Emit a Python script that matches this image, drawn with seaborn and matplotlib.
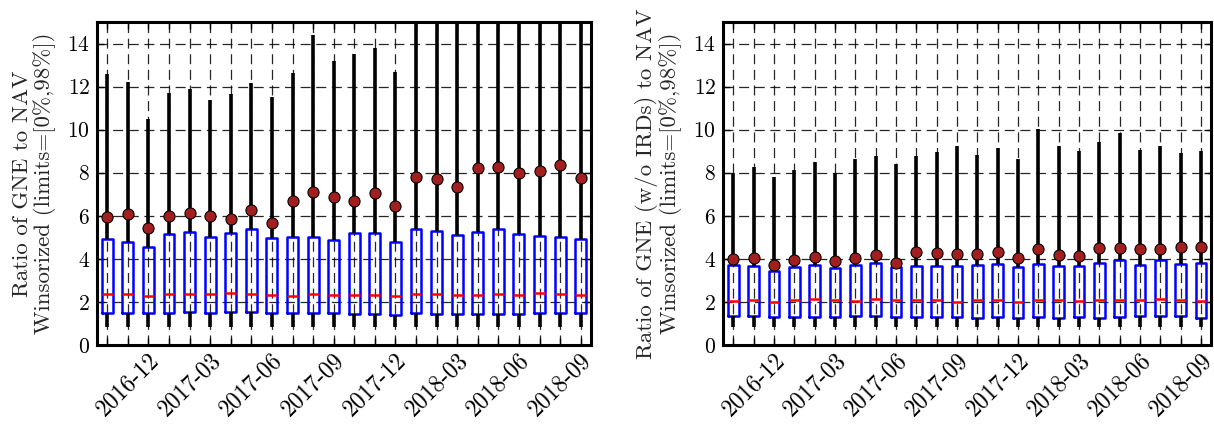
import matplotlib
matplotlib.use("Agg")
import matplotlib.pyplot as plt
import pandas as pd
import seaborn as sns

# months shown on the x axis (one box per month)
months = ["2016-11", "2016-12", "2017-01", "2017-02", "2017-03", "2017-04",
          "2017-05", "2017-06", "2017-07", "2017-08", "2017-09", "2017-10",
          "2017-11", "2017-12", "2018-01", "2018-02", "2018-03", "2018-04",
          "2018-05", "2018-06", "2018-07", "2018-08", "2018-09", "2018-10"]
tick_months = ["2016-12", "2017-03", "2017-06", "2017-09",
               "2017-12", "2018-03", "2018-06", "2018-09"]

# left panel: GNE / NAV
gne_low = [0.85, 0.85, 0.85, 0.85, 0.85, 0.85, 0.85, 0.85, 0.85, 0.85, 0.85, 0.85,
           0.85, 0.85, 0.85, 0.85, 0.85, 0.85, 0.85, 0.85, 0.85, 0.85, 0.85, 0.85]
gne_q1 = [1.50, 1.50, 1.50, 1.48, 1.53, 1.50, 1.55, 1.55, 1.50, 1.48, 1.48, 1.47,
          1.42, 1.43, 1.38, 1.48, 1.42, 1.43, 1.45, 1.45, 1.45, 1.47, 1.50, 1.48]
gne_median = [2.37, 2.35, 2.29, 2.35, 2.38, 2.35, 2.42, 2.38, 2.34, 2.29, 2.35, 2.32,
              2.32, 2.34, 2.26, 2.35, 2.35, 2.34, 2.32, 2.37, 2.31, 2.40, 2.35, 2.32]
gne_q3 = [4.92, 4.77, 4.57, 5.14, 5.23, 5.03, 5.18, 5.37, 4.95, 5.00, 5.00, 4.86,
          5.18, 5.22, 4.78, 5.40, 5.31, 5.11, 5.26, 5.40, 5.14, 5.05, 5.02, 4.92]
gne_high = [12.6, 12.2, 10.5, 11.7, 11.9, 11.4, 11.65, 12.15, 11.5, 12.65, 14.4, 13.2,
            13.5, 13.8, 12.7, 17.0, 17.0, 17.0, 17.0, 17.0, 17.0, 17.0, 17.0, 17.0]
gne_mean = [5.94, 6.09, 5.43, 6.00, 6.15, 6.00, 5.83, 6.29, 5.68, 6.71, 7.11, 6.86,
            6.71, 7.05, 6.45, 7.78, 7.69, 7.35, 8.20, 8.26, 7.97, 8.08, 8.37, 7.75]

# right panel: GNE without IRDs / NAV
irds_low = [0.85, 0.85, 0.85, 0.85, 0.85, 0.85, 0.85, 0.85, 0.85, 0.85, 0.85, 0.85,
            0.85, 0.85, 0.85, 0.85, 0.85, 0.85, 0.85, 0.85, 0.85, 0.85, 0.85, 0.85]
irds_q1 = [1.33, 1.33, 1.30, 1.30, 1.31, 1.31, 1.37, 1.34, 1.31, 1.28, 1.30, 1.30,
           1.26, 1.28, 1.25, 1.30, 1.26, 1.31, 1.26, 1.31, 1.33, 1.33, 1.33, 1.26]
irds_median = [2.05, 2.08, 1.99, 2.07, 2.13, 2.08, 2.05, 2.14, 2.08, 2.07, 2.07, 2.00,
               2.08, 2.08, 1.99, 2.11, 2.11, 2.05, 2.08, 2.08, 2.07, 2.13, 2.08, 2.05]
irds_q3 = [3.73, 3.65, 3.44, 3.62, 3.73, 3.59, 3.70, 3.82, 3.61, 3.68, 3.68, 3.67,
           3.73, 3.76, 3.62, 3.78, 3.68, 3.65, 3.79, 3.96, 3.72, 3.93, 3.76, 3.79]
irds_high = [7.97, 8.25, 7.82, 8.12, 8.48, 8.00, 8.63, 8.79, 8.39, 8.79, 8.97, 9.25,
             8.82, 9.13, 8.63, 10.02, 9.25, 8.99, 9.44, 9.84, 9.07, 9.25, 8.90, 9.00]
irds_mean = [3.98, 4.02, 3.73, 3.96, 4.07, 3.92, 4.04, 4.19, 3.79, 4.33, 4.29, 4.22,
             4.21, 4.30, 4.04, 4.47, 4.19, 4.13, 4.50, 4.52, 4.47, 4.46, 4.55, 4.55]

sns.set_style("ticks")
plt.rcParams["font.family"] = ["cmr10", "DejaVu Serif"]
plt.rcParams["mathtext.fontset"] = "cm"
plt.rcParams["axes.unicode_minus"] = False
plt.rcParams["axes.formatter.use_mathtext"] = True


def long_frame(low, q1, med, q3, high):
    # five points per month give exactly these quartiles with whis=(0, 100)
    rows = []
    for m, a, b, c, d, e in zip(months, low, q1, med, q3, high):
        for v in (a, b, c, d, e):
            rows.append({"month": m, "value": v})
    return pd.DataFrame(rows)


def draw_panel(ax, df, means, ylabel):
    sns.boxplot(data=df, x="month", y="value", order=months, ax=ax,
                whis=(0, 100), width=0.53, fill=False, showcaps=False,
                showfliers=False,
                boxprops=dict(color="blue", linewidth=1.8),
                medianprops=dict(color="red", linewidth=1.8),
                whiskerprops=dict(color="black", linewidth=2.6))
    sns.stripplot(x=months, y=means, order=months, ax=ax, jitter=False,
                  color="#a31f1f", edgecolor="black", linewidth=0.8, size=8,
                  zorder=5)
    ax.set_ylim(0, 15)
    ax.set_xlim(-0.5, len(months) - 0.5)
    ax.set_yticks(range(0, 15, 2))
    ax.set_xticks(range(len(months)))
    ax.set_xticklabels([m if m in tick_months else "" for m in months],
                       rotation=45)
    ax.set_xlabel("")
    ax.set_ylabel(ylabel, fontsize=16.5, linespacing=1.05, labelpad=8)
    ax.set_axisbelow(True)
    ax.grid(True, color="black", linestyle=(0, (8, 4.5)), linewidth=0.9,
            alpha=0.85)
    ax.tick_params(direction="in", top=True, right=True, length=5,
                   width=1, colors="black", pad=5)
    ax.tick_params(axis="x", labelsize=17, pad=3)
    ax.tick_params(axis="y", labelsize=15.5)
    for s in ax.spines.values():
        s.set_linewidth(2.2)
        s.set_color("black")
        s.set_visible(True)


fig = plt.figure(figsize=(12.14, 4.29), dpi=100)
ax1 = fig.add_axes([0.0799, 0.1958, 0.4069, 0.7529])
ax2 = fig.add_axes([0.5956, 0.1958, 0.4020, 0.7529])

draw_panel(ax1, long_frame(gne_low, gne_q1, gne_median, gne_q3, gne_high),
           gne_mean, "Ratio of GNE to NAV\nWinsorized (limits=[0%,98%])")
draw_panel(ax2, long_frame(irds_low, irds_q1, irds_median, irds_q3, irds_high),
           irds_mean,
           "Ratio of GNE (w/o IRDs) to NAV\nWinsorized (limits=[0%,98%])")

fig.savefig("out.png", dpi=100)
